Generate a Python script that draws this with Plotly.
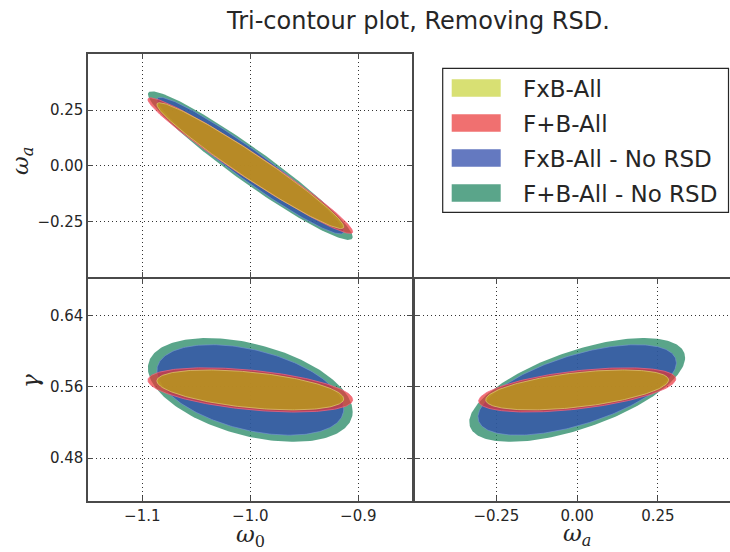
import numpy as np
import plotly.graph_objects as go

# Forecast series, drawn back to front
series = ["F+B-All - No RSD", "FxB-All - No RSD", "F+B-All", "FxB-All"]
legend_order = ["FxB-All", "F+B-All", "FxB-All - No RSD", "F+B-All - No RSD"]

# Fiducial cosmology
fid_w0 = -1.0
fid_wa = 0.0
fid_gamma = 0.5565

# Contour half-extents along each parameter (same order as `series`)
ext_w0 = [0.0948, 0.0865, 0.0948, 0.0865]
ext_wa = [0.334, 0.307, 0.305, 0.283]
ext_gamma = [0.0582, 0.0507, 0.0248, 0.0224]

# Pairwise correlation coefficients
rho_w0_wa = [-0.960, -0.963, -0.975, -0.972]
rho_w0_gamma = [-0.42, -0.42, -0.44, -0.45]
rho_wa_gamma = [0.62, 0.60, 0.50, 0.50]

# Tick values and labels
w0_ticks = [-1.1, -1.0, -0.9]
w0_labels = ["\u22121.1", "\u22121.0", "\u22120.9"]
wa_ticks = [-0.25, 0.0, 0.25]
wa_labels = ["\u22120.25", "0.00", "0.25"]
gamma_ticks = [0.48, 0.56, 0.64]
gamma_labels = ["0.48", "0.56", "0.64"]

fill_colors = {
    "FxB-All": "rgba(184,198,0,0.55)",
    "F+B-All": "rgba(233,51,51,0.70)",
    "FxB-All - No RSD": "rgba(48,76,171,0.75)",
    "F+B-All - No RSD": "rgba(35,135,99,0.75)",
}
rim_colors = {
    "FxB-All": "rgba(222,200,110,0.75)",
    "F+B-All": "rgba(240,100,130,0.75)",
    "FxB-All - No RSD": "rgba(120,150,215,0.6)",
    "F+B-All - No RSD": "rgba(35,135,99,0.0)",
}

W, H = 730, 552


def px(x):
    return x / W


def py(y):
    return 1 - y / H


def ellipse(cx, cy, ax, ay, rho, n=240):
    t = np.linspace(0, 2 * np.pi, n)
    x = cx + ax * np.cos(t)
    y = cy + ay * (rho * np.cos(t) + np.sqrt(1 - rho ** 2) * np.sin(t))
    return x, y


fig = go.Figure()

panels = [
    # (xaxis, yaxis, x-centre, y-centre, x-extents, y-extents, correlations)
    ("x", "y", fid_w0, fid_wa, ext_w0, ext_wa, rho_w0_wa),
    ("x2", "y2", fid_w0, fid_gamma, ext_w0, ext_gamma, rho_w0_gamma),
    ("x3", "y3", fid_wa, fid_gamma, ext_wa, ext_gamma, rho_wa_gamma),
]

for xa, ya, cx, cy, ex, ey, rh in panels:
    for i, name in enumerate(series):
        x, y = ellipse(cx, cy, ex[i], ey[i], rh[i])
        fig.add_trace(go.Scatter(
            x=x, y=y, mode="lines", fill="toself",
            fillcolor=fill_colors[name],
            line=dict(color=rim_colors[name], width=1.0),
            name=name, showlegend=False, hoverinfo="skip",
            xaxis=xa, yaxis=ya,
        ))

frame = "#4a4a4a"
tick_font = dict(family="DejaVu Sans", size=15, color="#262626")
common = dict(
    showline=True, linecolor=frame, linewidth=1.8,
    ticks="inside", ticklen=5, tickwidth=1.2, tickcolor=frame,
    showgrid=True, gridcolor="#333333", gridwidth=1, griddash="1px,3px",
    zeroline=False, tickfont=tick_font,
)

x_l = [px(88.3), px(412.3)]
x_r = [px(415), 1.0]
y_t = [py(277.3), py(54)]
y_b = [py(501), py(279.3)]

fig.update_layout(
    width=W, height=H,
    margin=dict(l=0, r=0, t=0, b=0),
    paper_bgcolor="white", plot_bgcolor="white",
    showlegend=False,
    xaxis=dict(domain=x_l, range=[-1.15, -0.85], anchor="y",
               tickvals=w0_ticks, ticktext=w0_labels, showticklabels=False,
               mirror="ticks", **common),
    yaxis=dict(domain=y_t, range=[-0.502, 0.502], anchor="x",
               tickvals=wa_ticks, ticktext=wa_labels, mirror="ticks", **common),
    xaxis2=dict(domain=x_l, range=[-1.15, -0.85], anchor="y2",
                tickvals=w0_ticks, ticktext=w0_labels, mirror="ticks", **common),
    yaxis2=dict(domain=y_b, range=[0.432, 0.6805], anchor="x2",
                tickvals=gamma_ticks, ticktext=gamma_labels, mirror="ticks", **common),
    xaxis3=dict(domain=x_r, range=[-0.502, 0.473], anchor="y3",
                tickvals=wa_ticks, ticktext=wa_labels, mirror="ticks", **common),
    yaxis3=dict(domain=y_b, range=[0.432, 0.6805], anchor="x3",
                tickvals=gamma_ticks, ticktext=gamma_labels, showticklabels=False,
                mirror=False, **common),
)

math_font = dict(family="DejaVu Serif", size=23, color="#262626")
annotations = [
    dict(text="Tri-contour plot, Removing RSD.", x=px(418), y=py(21),
         font=dict(family="DejaVu Sans", size=24, color="#262626")),
    dict(text="<i>\u03c9</i><sub><i>a</i></sub>", x=px(22), y=py(161),
         textangle=-90, font=math_font),
    dict(text="<i>\u03b3</i>", x=px(30), y=py(381), textangle=-90, font=math_font),
    dict(text="<i>\u03c9</i><sub>0</sub>", x=px(251), y=py(536), font=math_font),
    dict(text="<i>\u03c9</i><sub><i>a</i></sub>", x=px(577), y=py(535), font=math_font),
]
for a in annotations:
    a.update(xref="paper", yref="paper", showarrow=False,
             xanchor="center", yanchor="middle")

# Legend box drawn in page coordinates
shapes = [dict(type="rect", xref="paper", yref="paper",
               x0=px(442.7), x1=px(728.5), y0=py(212.3), y1=py(68.3),
               line=dict(color="#262626", width=1.2), fillcolor="white")]
row_centres = [88, 123, 158, 193]
for name, yc in zip(legend_order, row_centres):
    shapes.append(dict(type="rect", xref="paper", yref="paper",
                       x0=px(451.7), x1=px(500.7), y0=py(yc + 8.7), y1=py(yc - 8.7),
                       line=dict(width=0), fillcolor=fill_colors[name]))
    annotations.append(dict(text=name, x=px(520.7), y=py(yc + 1), xref="paper",
                            yref="paper", showarrow=False, xanchor="left",
                            yanchor="middle",
                            font=dict(family="DejaVu Sans", size=23, color="#262626")))

fig.update_layout(shapes=shapes, annotations=annotations)

fig.write_html("out.html")
